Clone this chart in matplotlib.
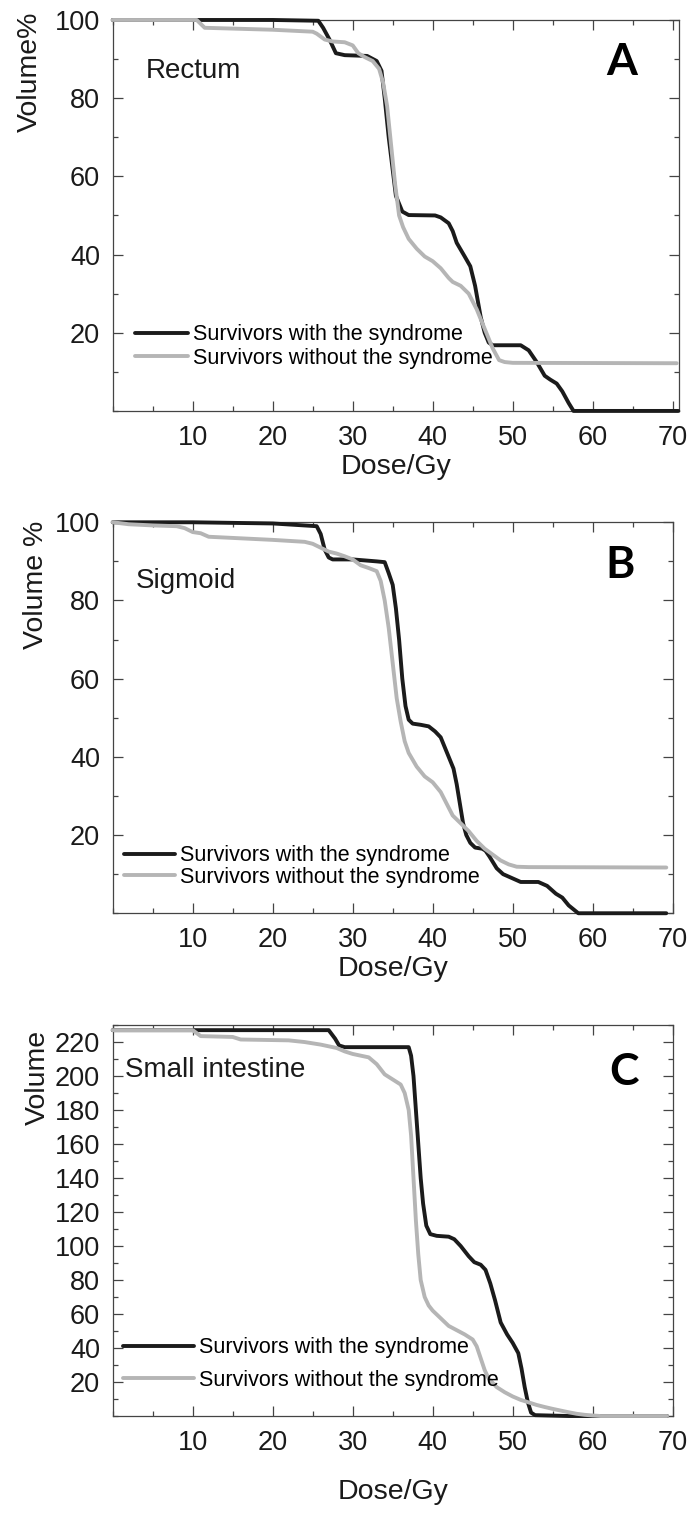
import matplotlib
matplotlib.use("Agg")
import matplotlib.pyplot as plt
from matplotlib.ticker import MultipleLocator

plt.rcParams['font.family'] = ['Liberation Sans', 'DejaVu Sans']

# ---- Panel A: Rectum (Volume %) ----
rect_with_dose = [0, 10, 20, 25.7, 26.3, 27.1, 27.9, 29, 31.8, 33, 33.6, 34.0, 34.5, 34.8, 35.4, 36.2,
                  37, 40.3, 41, 42, 42.5, 43, 44, 44.7, 45.3, 46, 46.5, 47, 47.5, 51, 52, 53, 54,
                  54.7, 55.5, 56.2, 57, 57.6, 70.7]
rect_with_vol = [100, 100, 100, 99.8, 98, 95, 91.5, 91, 90.8, 89.5, 87, 80, 70, 65, 55, 51,
                 50.1, 50, 49.5, 48, 46, 43, 39.5, 37, 32, 24, 20, 17.5, 16.8, 16.8, 15.5, 12.5, 9,
                 8, 7, 5, 2, 0, 0]
rect_without_dose = [0, 10.5, 11.5, 20, 25, 25.5, 26.5, 27.5, 29, 30, 30.7, 31.5, 32.5, 33.3, 33.8,
                     34.3, 34.8, 35.3, 35.8, 36.3, 37, 38, 39, 40, 41, 42, 42.5, 43.5, 44.5, 45.5,
                     46.5, 47.5, 48.3, 49, 50, 70.5]
rect_without_vol = [100, 100, 98, 97.5, 97, 96.5, 95, 94.5, 94.3, 93.5, 91.5, 90.5, 89.5, 87.5, 84,
                    78, 68, 58, 50, 47, 44, 41.5, 39.5, 38.3, 36.5, 34, 33, 32, 30, 26,
                    21, 16, 13, 12.5, 12.3, 12.2]

# ---- Panel B: Sigmoid (Volume %) ----
sig_with_dose = [0, 10, 20, 25.5, 26, 26.5, 27, 27.5, 30, 33, 34, 34.5, 35, 35.4, 35.8, 36.2, 36.6,
                 37, 37.5, 38.5, 39.5, 40.3, 41, 41.5, 42, 42.6, 43, 43.4, 43.8, 44.2, 44.7, 45.3,
                 46.2, 46.6, 47.1, 48, 48.8, 49.9, 51, 53.2, 54.3, 55.4, 56.2, 57, 58.2, 69.2]
sig_with_vol = [100, 100, 99.7, 99, 97, 93, 91, 90.5, 90.5, 90, 89.8, 87, 84, 78, 70, 60, 53,
                49.5, 48.5, 48.2, 47.8, 46.5, 45, 42.5, 40, 37, 33, 28, 23, 20, 18, 16.8,
                16.5, 16, 14.5, 11.5, 10, 9, 8, 8, 7, 5, 4, 2, 0, 0]
sig_without_dose = [0, 2, 5, 8, 9, 10, 11, 12, 15, 20, 24, 25, 26, 27, 28, 29, 30, 31, 32, 33, 33.5,
                    34, 34.5, 35, 35.5, 36, 36.5, 37, 38, 39, 40, 41, 42, 42.5, 43.5, 44.5, 45.5,
                    46.5, 47.5, 48.5, 49.5, 50.5, 52, 69.2]
sig_without_vol = [100, 99.5, 99.2, 99, 98.5, 97.5, 97.2, 96.3, 96, 95.5, 95, 94.5, 93.5, 92.5, 92,
                   91.3, 90.5, 89, 88.3, 87.5, 85, 80, 73, 64, 55, 49, 44, 41, 37.5, 35, 33.5, 31,
                   27, 25, 23, 21, 18.5, 16.5, 15, 13.5, 12.5, 11.9, 11.8, 11.7]

# ---- Panel C: Small intestine (Volume) ----
si_with_dose = [0, 10, 27, 27.8, 28.3, 29, 37, 37.3, 37.6, 37.9, 38.2, 38.5, 38.8, 39.2, 39.7, 40.5,
                42, 42.7, 43.5, 44.5, 45.2, 46, 46.6, 47.2, 47.8, 48.5, 49.3, 50, 50.7, 51.1,
                51.5, 51.9, 52.3, 52.8, 57, 69.3]
si_with_vol = [227, 227, 227, 222, 218, 217, 217, 212, 200, 180, 160, 140, 125, 112, 107, 106,
               105.5, 104, 100, 94, 90.5, 89, 86, 78, 68, 55, 48, 43, 37, 28,
               17, 8, 2, 0.5, 0, 0]
si_without_dose = [0, 10, 11, 15, 16, 22, 24, 26, 28, 29, 30, 31, 32, 33, 34, 35, 36, 36.5, 37,
                   37.3, 37.6, 37.9, 38.2, 38.5, 39, 39.5, 40, 41, 42, 43, 44, 45, 45.5, 46,
                   46.5, 47, 48, 49, 50, 51, 52, 53, 54, 55, 56, 57, 58, 59, 60, 61, 69.3]
si_without_vol = [227, 227, 223.5, 223, 221.5, 221, 220, 218.5, 216.5, 214.5, 213, 212, 211, 207,
                  201, 198, 195, 190, 180, 165, 140, 115, 95, 80, 70, 65, 62, 57.5, 53, 50.5,
                  48, 45, 41, 34, 27, 22, 17, 14, 11.5, 9.5, 8, 6.5, 5.3, 4.2, 3.2, 2.2, 1.3,
                  0.7, 0.3, 0, 0]

legend_labels = ['Survivors with the syndrome', 'Survivors without the syndrome']
black = '#1b1b1b'
gray = '#b5b5b5'

fig = plt.figure(figsize=(6.91, 15.13), dpi=100)

panels = [
    dict(rect=[0.1631, 0.7284, 0.8191, 0.2584], xmax=70.75, ymax=100, yticks=range(20, 101, 20),
         yminor=10, ylabel='Volume%', ylab=(-0.124, 0.867), xlab=-0.11,
         name='Rectum', name_xy=(0.059, 0.852), letter='A', letter_xy=(0.90, 0.859),
         leg=(0.039, 0.165), hl=2.45, ls=0.12,
         data=(rect_with_dose, rect_with_vol, rect_without_dose, rect_without_vol)),
    dict(rect=[0.1631, 0.3964, 0.8104, 0.2584], xmax=70, ymax=100, yticks=range(20, 101, 20),
         yminor=10, ylabel='Volume %', ylab=(-0.113, 0.84), xlab=-0.11,
         name='Sigmoid', name_xy=(0.042, 0.832), letter='B', letter_xy=(0.906, 0.858),
         leg=(0.02, 0.12), hl=2.36, ls=0.02,
         data=(sig_with_dose, sig_with_vol, sig_without_dose, sig_without_vol)),
    dict(rect=[0.1631, 0.0641, 0.8104, 0.2584], xmax=70, ymax=230, yticks=range(20, 221, 20),
         yminor=10, ylabel='Volume', ylab=(-0.110, 0.867), xlab=-0.161,
         name='Small intestine', name_xy=(0.022, 0.867), letter='C', letter_xy=(0.913, 0.847),
         leg=(0.018, 0.133), hl=3.3, ls=0.55,
         data=(si_with_dose, si_with_vol, si_without_dose, si_without_vol)),
]

for p in panels:
    ax = fig.add_axes(p['rect'])
    wd, wv, nd, nv = p['data']
    ax.plot(wd, wv, color=black, lw=2.8, solid_joinstyle='round', solid_capstyle='round',
            label=legend_labels[0], clip_on=False, zorder=3)
    ax.plot(nd, nv, color=gray, lw=2.8, solid_joinstyle='round', solid_capstyle='round',
            label=legend_labels[1], clip_on=False, zorder=4)

    ax.set_xlim(0, p['xmax'])
    ax.set_ylim(0, p['ymax'])
    ax.set_xticks(range(10, 71, 10))
    ax.xaxis.set_minor_locator(MultipleLocator(5))
    ax.set_yticks(list(p['yticks']))
    ax.yaxis.set_minor_locator(MultipleLocator(p['yminor']))
    ax.tick_params(which='both', direction='in', top=True, right=True, color='#444444',
                   labelsize=19.5, labelcolor='#1a1a1a')
    ax.tick_params(which='major', length=7, width=0.9)
    ax.tick_params(which='minor', length=3.6, width=0.9)
    ax.tick_params(axis='x', pad=10)
    ax.tick_params(axis='y', pad=9)
    for s in ax.spines.values():
        s.set_color('#444444')
        s.set_linewidth(0.9)

    ax.set_xlabel('Dose/Gy', fontsize=20.5, color='#1a1a1a')
    ax.xaxis.set_label_coords(0.5, p['xlab'])
    ax.set_ylabel('Volume' if False else p['ylabel'], fontsize=20.5, color='#1a1a1a')
    ax.yaxis.set_label_coords(*p['ylab'])

    ax.text(p['name_xy'][0], p['name_xy'][1], p['name'], transform=ax.transAxes,
            fontsize=20, ha='left', va='baseline', color='#1a1a1a')
    ax.text(p['letter_xy'][0], p['letter_xy'][1], p['letter'], transform=ax.transAxes,
            fontsize=32, fontweight='bold', family=['Lato', 'DejaVu Sans'],
            ha='center', va='baseline', color='black')

    ax.legend(loc='center left', bbox_to_anchor=p['leg'], frameon=False, fontsize=15.5,
              handlelength=p['hl'], handletextpad=0.25, labelspacing=p['ls'],
              borderpad=0, borderaxespad=0)

fig.savefig('out.png', dpi=100)
